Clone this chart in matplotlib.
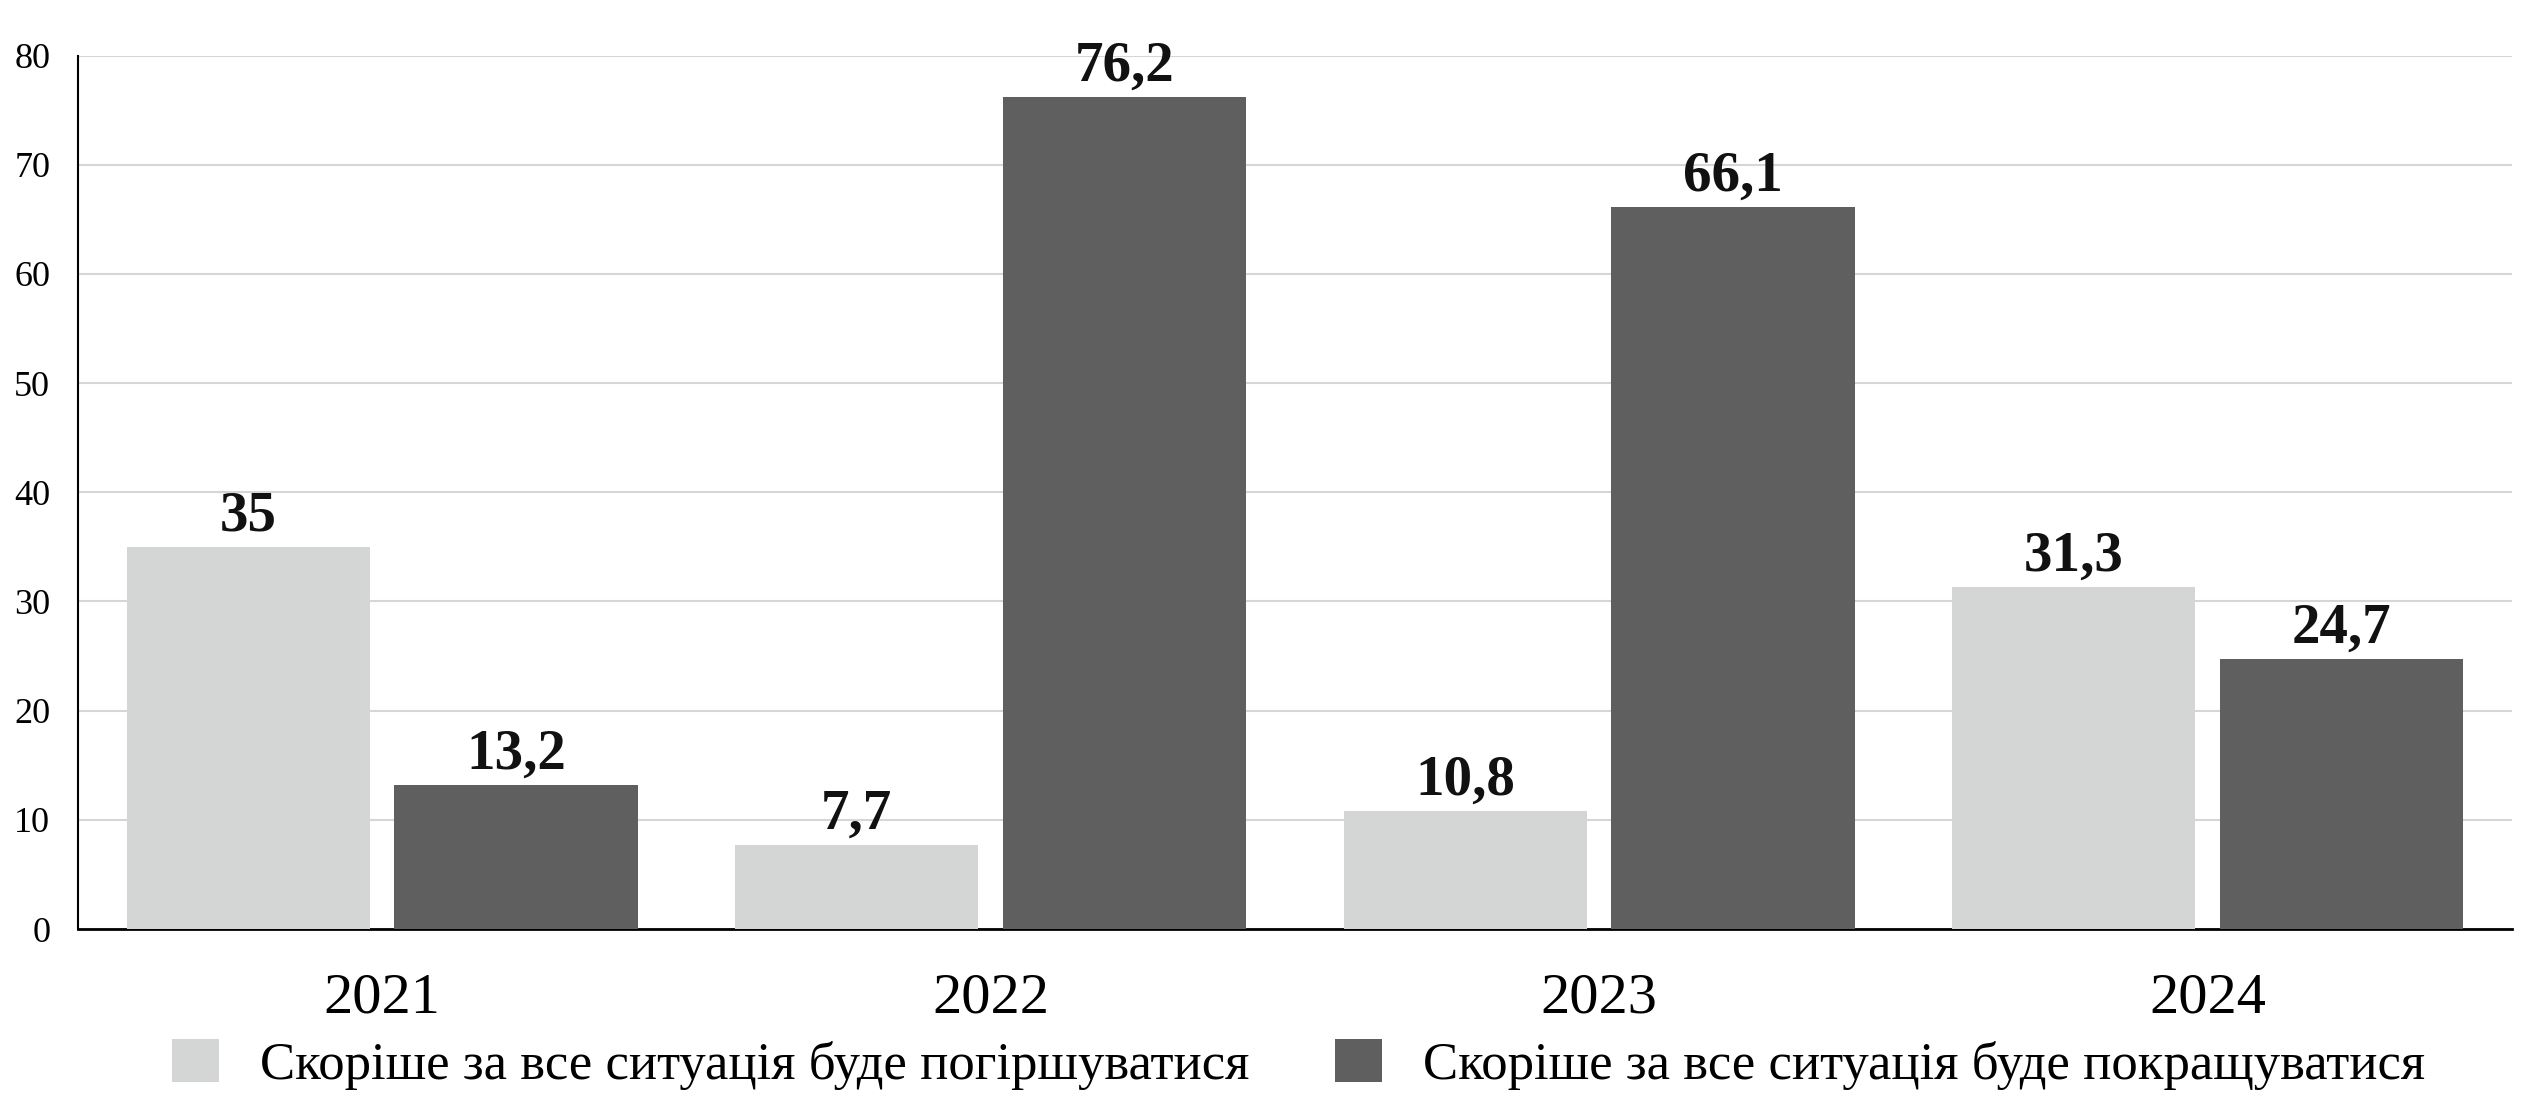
import numpy as np
import matplotlib
matplotlib.use("Agg")
from matplotlib import pyplot as plt

years = ['2021', '2022', '2023', '2024']
worse = [35, 7.7, 10.8, 31.3]
better = [13.2, 76.2, 66.1, 24.7]
worse_labels = ['35', '7,7', '10,8', '31,3']
better_labels = ['13,2', '76,2', '66,1', '24,7']
legend_names = ['Скоріше за все ситуація буде погіршуватися',
                'Скоріше за все ситуація буде покращуватися']
yticks = [0, 10, 20, 30, 40, 50, 60, 70, 80]

plt.rcParams['font.family'] = ['Liberation Serif', 'DejaVu Serif']

fig = plt.figure(figsize=(25.38, 11.10), dpi=100)
ax = fig.add_axes([0.0307, 0.163, 0.959, 0.787])

x = np.arange(len(years))
w = 0.4
b1 = ax.bar(x - 0.22, worse, w, color='#d4d6d5', label=legend_names[0], zorder=3)
b2 = ax.bar(x + 0.22, better, w, color='#5e5f5e', label=legend_names[1], zorder=3)

# підписи значень
for bars, labs in ((b1, worse_labels), (b2, better_labels)):
    for rect, lab in zip(bars, labs):
        ax.annotate(lab, (rect.get_x() + rect.get_width() / 2, rect.get_height()),
                    xytext=(0, 3), textcoords='offset points',
                    ha='center', va='bottom', fontsize=41, fontweight='bold', color='#111111')

ax.set_xlim(-0.5, 3.5)
ax.set_ylim(0, 80)
ax.set_yticks(yticks)
ax.set_xticks(x)
ax.set_xticklabels(years, fontsize=42)
ax.tick_params(axis='y', length=0, labelsize=26, pad=20)
ax.tick_params(axis='x', length=0, pad=31)
ax.grid(axis='y', color='#d6d6d6', linewidth=1.5, zorder=0)
for s in ('top', 'right'):
    ax.spines[s].set_visible(False)
ax.spines['left'].set_linewidth(1.5)
ax.spines['bottom'].set_linewidth(2)

fig.legend(loc='center', bbox_to_anchor=(0.5115, 0.041), ncol=2, frameon=False,
           fontsize=38, handlelength=0.89, handleheight=0.89, handletextpad=0.78,
           columnspacing=1.62)

fig.savefig('out.png', dpi=100)
